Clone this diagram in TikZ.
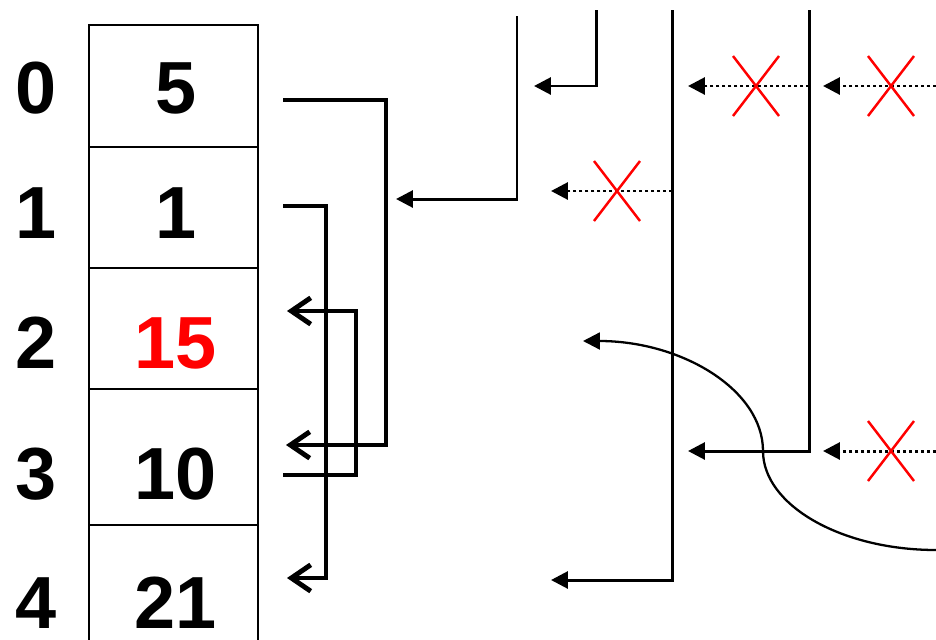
\documentclass[tikz,border=0pt]{standalone}
\usepackage{fontspec}
\setmainfont{Liberation Sans}
\usetikzlibrary{arrows.meta}
\begin{document}
\begin{tikzpicture}[x=0.01cm,y=-0.01cm,line join=miter,
	font=\fontsize{21}{25}\selectfont\bfseries,
	cell/.style={draw,line width=0.8pt,minimum width=1.69cm,inner sep=0pt},
	num/.style={inner sep=0pt},
	link/.style={line width=1.4pt,-{Straight Barb[length=5.5pt,width=7.5pt]}},
	ptr/.style={line width=0.85pt,-{Triangle[length=4.8pt,width=4.8pt]}},
	gone/.style={ptr,dash pattern=on 0.9pt off 0.8pt},
	cross/.style={red,line width=0.7pt}]
			\useasboundingbox (0,0) rectangle (936,639);
			\clip (0,0) rectangle (936,639);
			% the array
			\node[cell,minimum height=1.22cm] (c0) at (173.5,86) {};
			\node[cell,minimum height=1.21cm] (c1) at (173.5,207.5) {};
			\node[cell,minimum height=1.21cm] (c2) at (173.5,328.5) {};
			\node[cell,minimum height=1.36cm] (c3) at (173.5,457) {};
			\node[cell,minimum height=1.50cm] (c4) at (173.5,600) {};
			\node[num] (v0) at (176,88) {5};
			\node[num] (v1) at (176,213) {1};
			\node[num,text=red] (v2) at (176,343) {15};
			\node[num] (v3) at (176,474) {10};
			\node[num] (v4) at (176,603) {21};
			\node[num] (i0) at (36,88) {0};
			\node[num] (i1) at (36,213) {1};
			\node[num] (i2) at (36,343) {2};
			\node[num] (i3) at (36,474) {3};
			\node[num] (i4) at (36,603) {4};
			% moves inside the array
			\coordinate (a0) at (283,100);
			\coordinate (a1) at (283,206);
			\coordinate (a3) at (283,475);
			\coordinate (b2) at (287,311);
			\coordinate (b3) at (286,445);
			\coordinate (b4) at (287,578);
			\draw[link] (a0) -- ++(103,0) |- (b3);
			\draw[link] (a1) -- ++(43,0) |- (b4);
			\draw[link] (a3) -- ++(73,0) |- (b2);
			% pointers from the right
			\coordinate (t1) at (517,16);
			\coordinate (t2) at (596,10);
			\coordinate (t3) at (672,10);
			\coordinate (t4) at (809,10);
			\coordinate (r1) at (396,199);
			\coordinate (r2) at (534,86);
			\coordinate (r3) at (551,580);
			\coordinate (r4) at (688,451);
			\draw[ptr] (t1) |- (r1);
			\draw[ptr] (t2) |- (r2);
			\draw[ptr] (t3) |- (r3);
			\draw[ptr] (t4) |- (r4);
			% cancelled pointers
			\coordinate (d1) at (672,191);
			\coordinate (d2) at (809,86);
			\coordinate (d3) at (936,86);
			\coordinate (d4) at (936,451);
			\draw[gone] (d1) -- (551,191);
			\draw[gone] (d2) -- (688,86);
			\draw[gone] (d3) -- (823,86);
			\draw[gone] (d4) -- (823,451);
			\foreach \x/\y in {617/191,756/86,891/86,891/451}
				\draw[cross] (\x-23,\y-30) -- (\x+23,\y+30) (\x-23,\y+30) -- (\x+23,\y-30);
			% curved pointer
			\coordinate (cs) at (936,550);
			\coordinate (ce) at (583,341);
			\draw[ptr,line width=0.65pt] (cs) .. controls (841,550) and (763,505) .. (763,451)
				.. controls (763,390) and (682,341) .. (ce);
		\end{tikzpicture}
\end{document}
